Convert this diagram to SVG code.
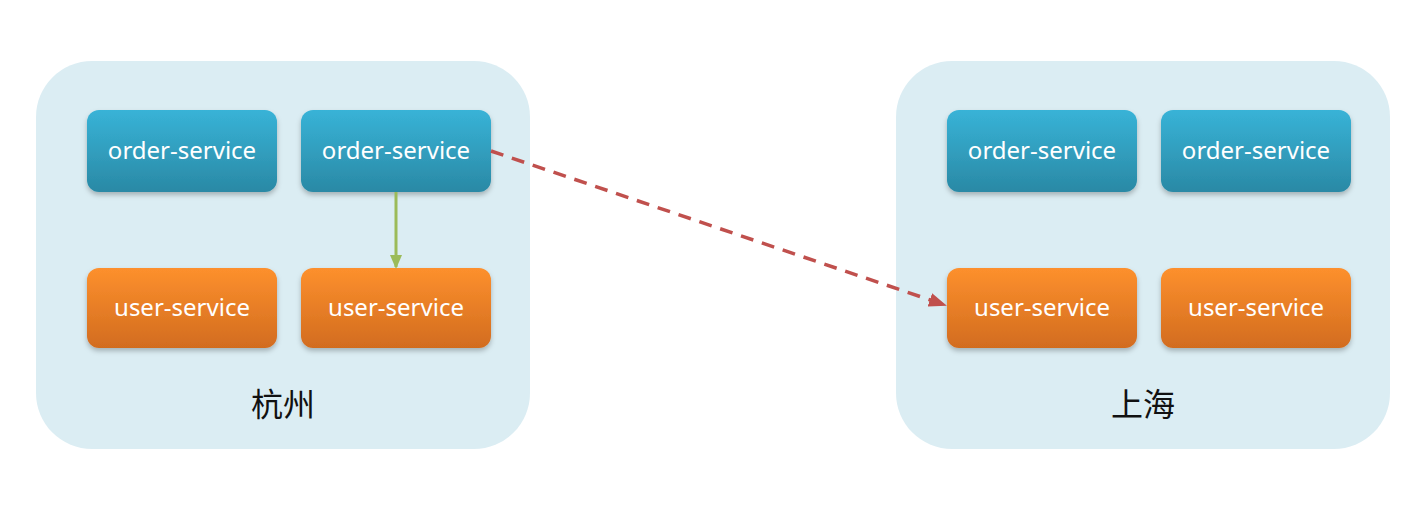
<svg xmlns="http://www.w3.org/2000/svg" width="1427" height="520" viewBox="0 0 1427 520">
<defs>
<linearGradient id="gBlue" x1="0" y1="0" x2="0" y2="1">
<stop offset="0" stop-color="#38b3d7"/>
<stop offset="1" stop-color="#2a89a5"/>
</linearGradient>
<linearGradient id="gOrange" x1="0" y1="0" x2="0" y2="1">
<stop offset="0" stop-color="#fd902d"/>
<stop offset="1" stop-color="#d26c1f"/>
</linearGradient>
<filter id="sh" x="-10%" y="-10%" width="120%" height="130%">
<feDropShadow dx="0" dy="3" stdDeviation="2.5" flood-color="#000" flood-opacity="0.25"/>
</filter>
<marker id="mGreen" markerWidth="14" markerHeight="14" refX="12" refY="7" orient="auto" markerUnits="userSpaceOnUse" viewBox="0 0 14 14">
<path d="M0,1 L14,7 L0,13 z" fill="#9bbb59"/>
</marker>
<marker id="mRed" markerWidth="18" markerHeight="18" refX="16" refY="9" orient="auto" markerUnits="userSpaceOnUse" viewBox="0 0 18 18">
<path d="M0,2 L18,9 L0,16 z" fill="#c0504d"/>
</marker>
</defs>
<style>
.region{fill:#dbedf3;}
.blue{fill:url(#gBlue);filter:url(#sh);}
.orange{fill:url(#gOrange);filter:url(#sh);}
.t{font-family:"Noto Sans","Open Sans",sans-serif;font-size:24px;fill:#ffffff;text-anchor:middle;dominant-baseline:central;}
.city{font-family:"Noto Sans CJK SC",sans-serif;font-size:32px;fill:#111;text-anchor:middle;dominant-baseline:central;}
</style>
<rect width="1427" height="520" fill="#ffffff"/>
<g id="hangzhou">
<rect class="region" x="36" y="61" width="494" height="388" rx="56"/>
<text class="city" x="283" y="402">杭州</text>
</g>
<g id="shanghai">
<rect class="region" x="896" y="61" width="494" height="388" rx="56"/>
<text class="city" x="1143" y="402">上海</text>
</g>
<g id="hz-order-1"><rect class="blue" x="87" y="110" width="190" height="82" rx="12"/><text class="t" x="182" y="149">order-service</text></g>
<g id="hz-order-2"><rect class="blue" x="301" y="110" width="190" height="82" rx="12"/><text class="t" x="396" y="149">order-service</text></g>
<g id="hz-user-1"><rect class="orange" x="87" y="268" width="190" height="80" rx="12"/><text class="t" x="182" y="306">user-service</text></g>
<g id="hz-user-2"><rect class="orange" x="301" y="268" width="190" height="80" rx="12"/><text class="t" x="396" y="306">user-service</text></g>
<g id="sh-order-1"><rect class="blue" x="947" y="110" width="190" height="82" rx="12"/><text class="t" x="1042" y="149">order-service</text></g>
<g id="sh-order-2"><rect class="blue" x="1161" y="110" width="190" height="82" rx="12"/><text class="t" x="1256" y="149">order-service</text></g>
<g id="sh-user-1"><rect class="orange" x="947" y="268" width="190" height="80" rx="12"/><text class="t" x="1042" y="306">user-service</text></g>
<g id="sh-user-2"><rect class="orange" x="1161" y="268" width="190" height="80" rx="12"/><text class="t" x="1256" y="306">user-service</text></g>
<g id="connectors">
<line x1="396" y1="192" x2="396" y2="267" stroke="#9bbb59" stroke-width="3" marker-end="url(#mGreen)"/>
<line x1="491" y1="151" x2="945" y2="305" stroke="#c0504d" stroke-width="3.5" stroke-dasharray="13,9" marker-end="url(#mRed)"/>
</g>
</svg>
